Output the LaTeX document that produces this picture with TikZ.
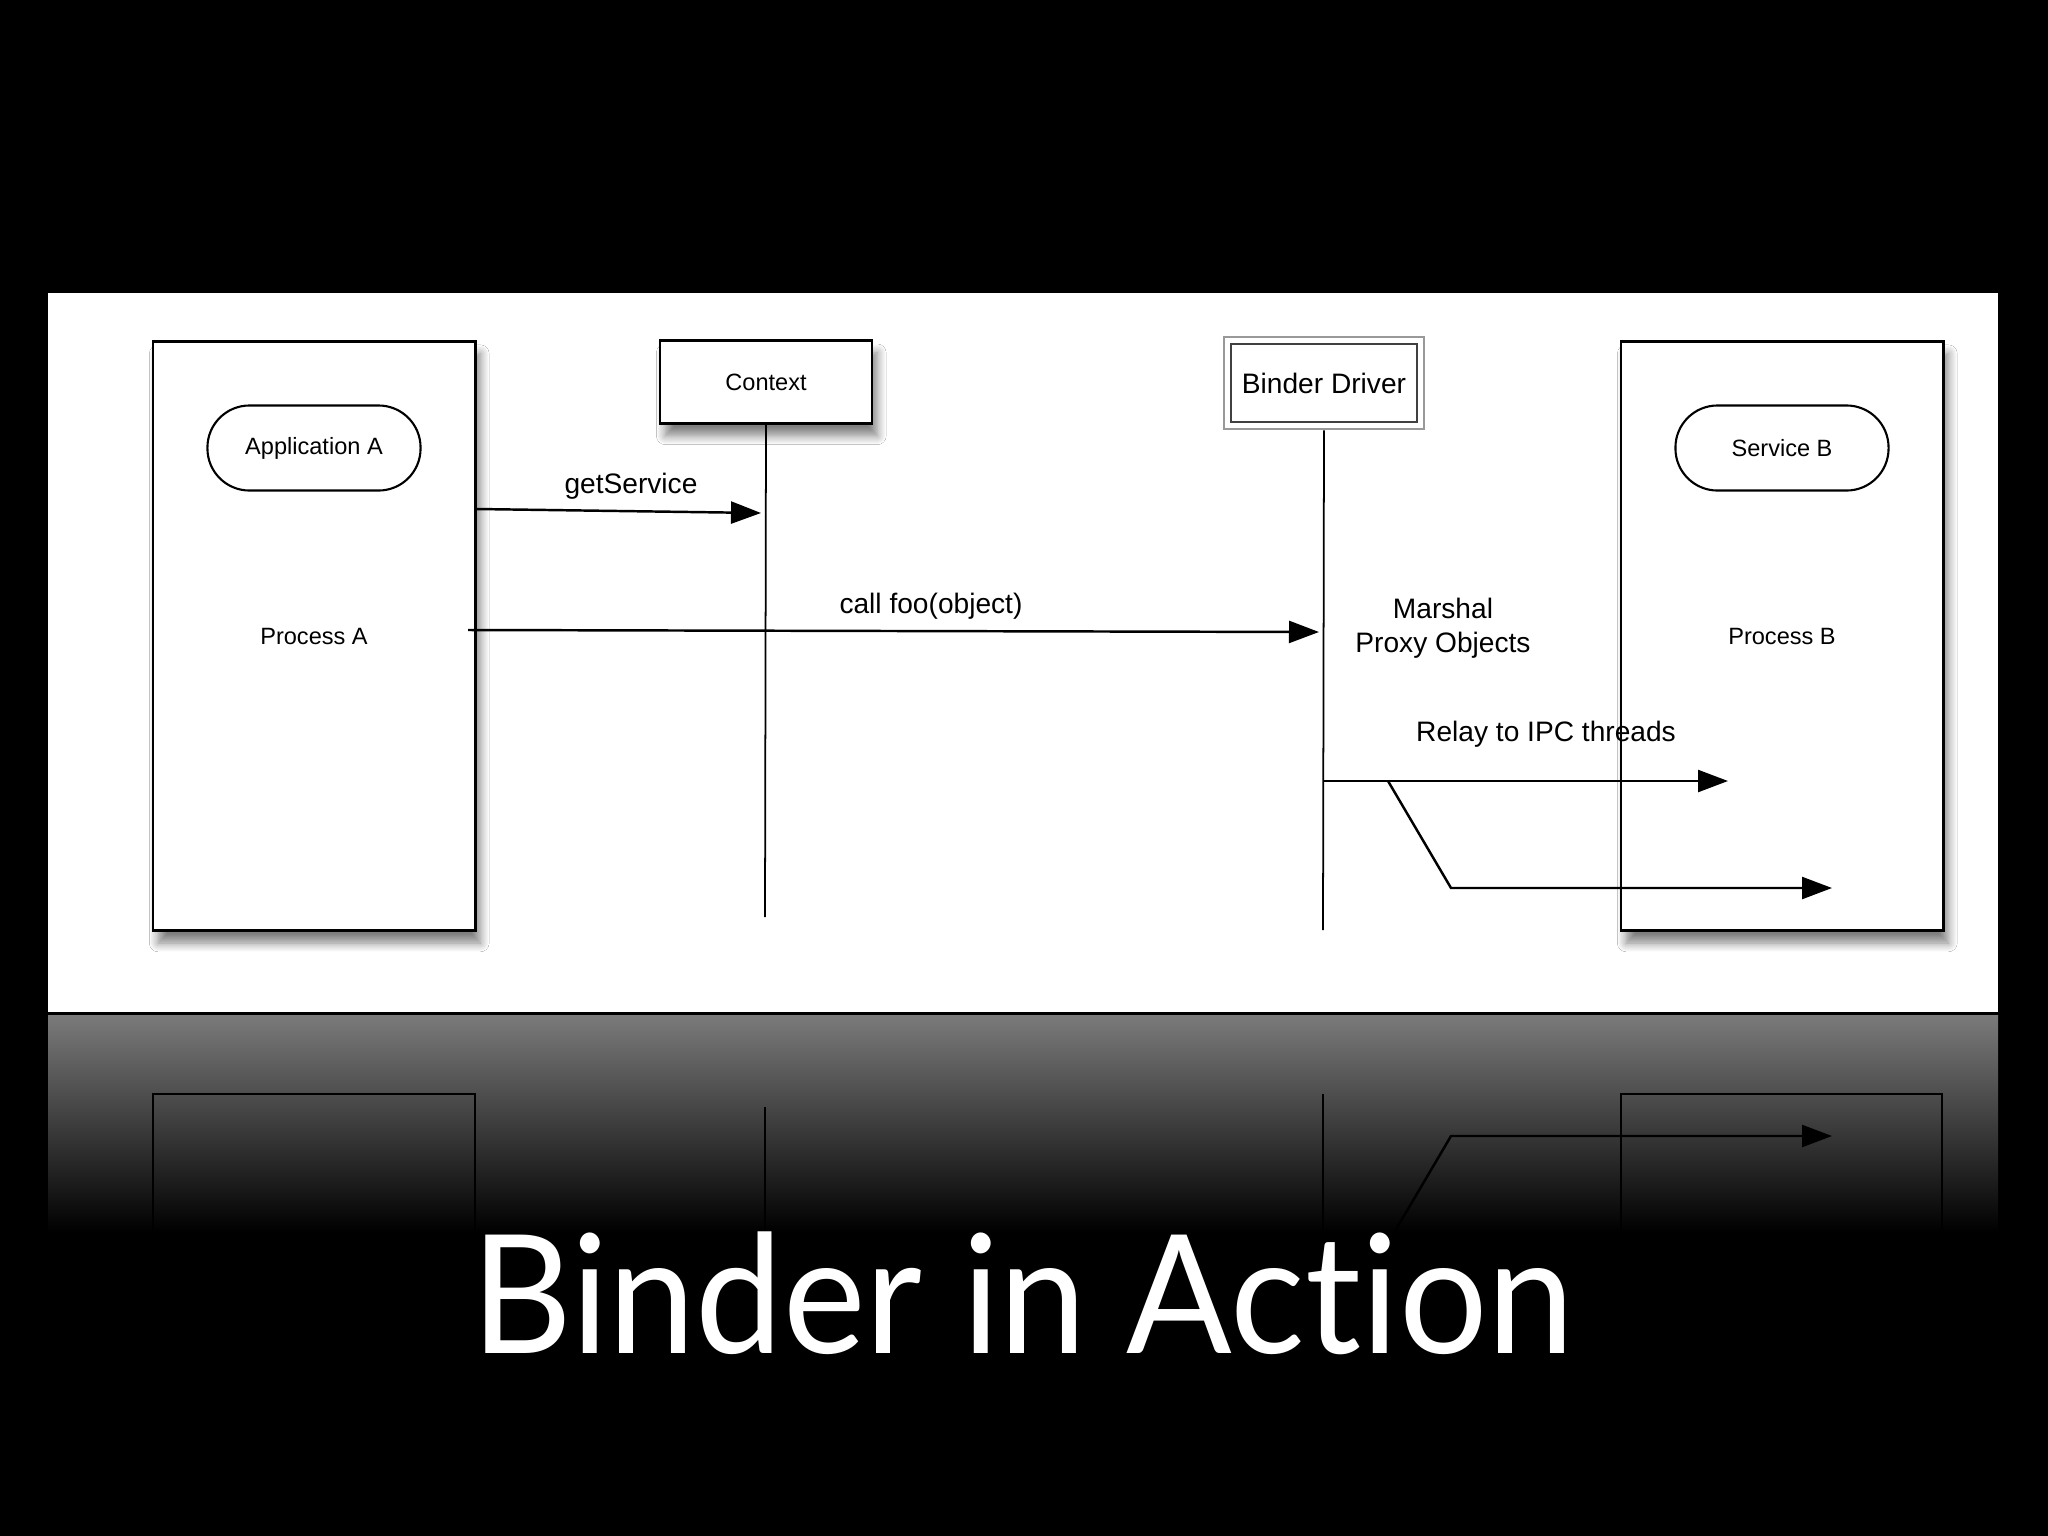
\documentclass[tikz,border=0pt]{standalone}
\usepackage{fontspec}
\setmainfont{Liberation Sans}
\newfontfamily\titlefont[Ligatures=NoCommon]{Lato}
\usetikzlibrary{arrows.meta,positioning,shadows.blur}
\tikzset{
  procbox/.style={draw=black, line width=0.8pt, fill=white, minimum width=3.22cm, minimum height=5.89cm, inner sep=0pt, font=\fontsize{6.7}{8}\selectfont, blur shadow={shadow xshift=1.5pt, shadow yshift=-3.5pt, shadow blur radius=2.5pt, shadow blur steps=10, shadow opacity=50}},
  pill/.style={draw=black, line width=0.6pt, rounded corners=0.42cm, minimum width=2.13cm, minimum height=0.85cm, inner sep=0pt, font=\fontsize{6.7}{8}\selectfont},
  lifebox/.style={draw=black, line width=0.8pt, fill=white, minimum width=2.12cm, minimum height=0.83cm, inner sep=0pt, font=\fontsize{6.7}{8}\selectfont, blur shadow={shadow xshift=1.5pt, shadow yshift=-3.5pt, shadow blur radius=2.5pt, shadow blur steps=10, shadow opacity=50}},
  driverbox/.style={draw=black!40, line width=0.7pt, fill=white, minimum width=2.0cm, minimum height=0.92cm, inner sep=0pt, font=\fontsize{8}{9.6}\selectfont},
  lifeline/.style={line width=0.5pt},
  msg/.style={-{Triangle[length=3mm,width=2.2mm]}, line width=0.7pt},
  msglabel/.style={font=\fontsize{8}{9.7}\selectfont, inner sep=0pt, align=center},
  mirror/.style={line width=0.7pt, draw=black},
  title/.style={text=white, inner sep=0pt, font=\titlefont\fontsize{47}{56}\selectfont}
}

\begin{document}
\begin{tikzpicture}[x=0.01cm, y=-0.01cm]
% slide background and diagram panel
\fill[black] (0,0) rectangle (2048,1536);
\fill[white] (48,293) rectangle (1998,1012);
\shade[top color=black!52, bottom color=black] (48,1015) rectangle (1998,1232);

% reflection
\draw[mirror] (153,1240) |- (475,1094) -- (475,1240);
\draw[mirror] (1621,1240) |- (1942,1094) -- (1942,1240);
\draw[mirror, line width=0.5pt] (765,1107) -- (765,1240);
\draw[mirror, line width=0.5pt] (1323,1094) -- (1323,1240);
\draw[mirror, -{Triangle[length=3mm,width=2.2mm]}] (1388,1243) -- (1451,1136) -- (1832,1136);

% participants
\node[procbox] (procA) at (314,636) {Process A};
\node[pill] (appA) at (314,448) {Application A};
\node[procbox] (procB) at (1782,636) {Process B};
\node[pill] (servB) at (1782,448) {Service B};
\node[lifebox] (ctx) at (766,382) {Context};
\node[driverbox] (drv) at (1324,383) {Binder Driver};
\draw[black!75, line width=0.55pt] ([shift={(2.3pt,-2.3pt)}]drv.north west) rectangle ([shift={(-2.3pt,2.3pt)}]drv.south east);

% lifelines
\coordinate (ctxEnd) at (765,917);
\coordinate (drvEnd) at (1323,930);
\draw[lifeline] (ctx.south) -- (ctxEnd);
\draw[lifeline] (drv.south) -- (drvEnd);

% messages
\coordinate (getS) at (761,513);
\draw[msg] (procA.east |- 0,509) -- (getS);
\node[msglabel] (getSLabel) at (631,486) {getService};

\coordinate (callA) at (468,630);
\coordinate (callB) at (1319,632);
\draw[msg] (callA) -- (callB);
\node[msglabel] (callLabel) at (931,606) {call foo(object)};

\node[msglabel] (marshal) at (1443,628) {Marshal\\Proxy Objects};

\coordinate (relayA) at (1323,781);
\coordinate (relayFork) at (1388,781);
\coordinate (relayBend) at (1451,888);
\coordinate (relayEndA) at (1728,781);
\coordinate (relayEndB) at (1832,888);
\draw[msg] (relayA) -- (relayEndA);
\draw[msg] (relayFork) -- (relayBend) -- (relayEndB);
\node[msglabel] (relayLabel) at (1546,734) {Relay to IPC threads};

% slide title
\node[title, xscale=0.945] (slideTitle) at (1023,1293) {Binder in Action};
\end{tikzpicture}
\end{document}
